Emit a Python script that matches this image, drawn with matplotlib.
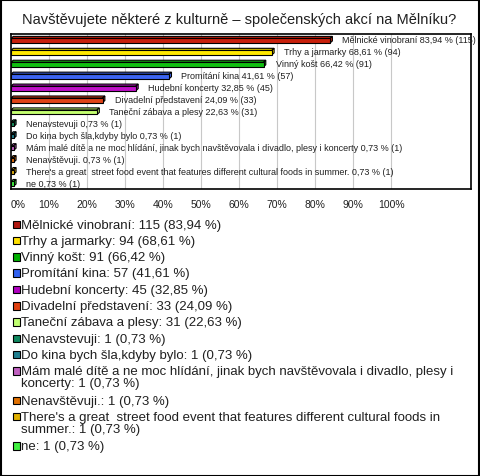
import matplotlib
matplotlib.use("Agg")
import matplotlib.pyplot as plt
from matplotlib.patches import Polygon, Rectangle

plt.rcParams['font.family'] = ['Liberation Sans', 'DejaVu Sans']

nazvy = [
    "Mělnické vinobraní",
    "Trhy a jarmarky",
    "Vinný košt",
    "Promítání kina",
    "Hudební koncerty",
    "Divadelní představení",
    "Taneční zábava a plesy",
    "Nenavstevuji",
    "Do kina bych šla,kdyby bylo",
    "Mám malé dítě a ne moc hlídání, jinak bych navštěvovala i divadlo, plesy i koncerty",
    "Nenavštěvuji.",
    "There's a great  street food event that features different cultural foods in summer.",
    "ne",
]
pocty = [115, 94, 91, 57, 45, 33, 31, 1, 1, 1, 1, 1, 1]
procenta = [83.94, 68.61, 66.42, 41.61, 32.85, 24.09, 22.63,
            0.73, 0.73, 0.73, 0.73, 0.73, 0.73]
barvy_sloupcu = ["#c8200c", "#ffe800", "#10c010", "#3c64f0", "#c010c8", "#e04418",
                 "#c4ff70", "#189060", "#20808c", "#c060c0", "#e07010", "#e0b010",
                 "#40f040"]
barvy_legendy = ["#b01810", "#ffe000", "#00b000", "#3060f0", "#b000c0", "#e04010",
                 "#c0ff70", "#108860", "#207f90", "#c060c0", "#e07000", "#e0b000",
                 "#40f040"]
# zalomeni v legende jako v originale
legenda = [
    "Mělnické vinobraní: 115 (83,94 %)",
    "Trhy a jarmarky: 94 (68,61 %)",
    "Vinný košt: 91 (66,42 %)",
    "Promítání kina: 57 (41,61 %)",
    "Hudební koncerty: 45 (32,85 %)",
    "Divadelní představení: 33 (24,09 %)",
    "Taneční zábava a plesy: 31 (22,63 %)",
    "Nenavstevuji: 1 (0,73 %)",
    "Do kina bych šla,kdyby bylo: 1 (0,73 %)",
    "Mám malé dítě a ne moc hlídání, jinak bych navštěvovala i divadlo, plesy i\nkoncerty: 1 (0,73 %)",
    "Nenavštěvuji.: 1 (0,73 %)",
    "There's a great  street food event that features different cultural foods in\nsummer.: 1 (0,73 %)",
    "ne: 1 (0,73 %)",
]
osa_x = [0, 10, 20, 30, 40, 50, 60, 70, 80, 90, 100]

W, H = 480, 477
fig = plt.figure(figsize=(4.8, 4.77), dpi=100)

# ramecek kolem celeho obrazku
fig.patches.append(Rectangle((0.5 / W, 0.5 / H), 1 - 1.5 / W, 1 - 1.5 / H,
                             transform=fig.transFigure, fill=False,
                             edgecolor="black", linewidth=1.5))

fig.text(239 / W, 1 - 20 / H,
         "Navštěvujete některé z kulturně – společenských akcí na Mělníku?",
         ha="center", va="center", fontsize=10.5, color="#202020")

ax = fig.add_axes([11 / W, 1 - 190 / H, 460 / W, 155 / H])
ax.set_xlim(0, 121)
ax.set_ylim(len(nazvy) - 0.5, -0.5)
ax.set_xticks(osa_x)
ax.set_xticklabels([f"{t}%" for t in osa_x], fontsize=7.5, color="#202020")
ax.get_xticklabels()[0].set_ha("left")
ax.set_yticks([])
ax.tick_params(axis="x", length=0, pad=7)
for t in osa_x[1:]:
    ax.axvline(t, color="#c8c8c8", linewidth=0.8, zorder=0)
for s in ax.spines.values():
    s.set_linewidth(1.2)

# 3D sloupce
dx, dy = 0.6, 0.17
for i, (v, c) in enumerate(zip(procenta, barvy_sloupcu)):
    y0, y1 = i - 0.13, i + 0.25
    top = Polygon([(0, y0), (dx, y0 - dy), (v + dx, y0 - dy), (v, y0)],
                  closed=True, facecolor=c, edgecolor="black", linewidth=0.8)
    side = Polygon([(v, y0), (v + dx, y0 - dy), (v + dx, y1 - dy), (v, y1)],
                   closed=True, facecolor=c, edgecolor="black", linewidth=0.8)
    front = Rectangle((0, y0), v, y1 - y0, facecolor=c, edgecolor="black",
                      linewidth=0.8)
    for p in (top, side, front):
        ax.add_patch(p)
    pct = f"{procenta[i]:.2f}".replace(".", ",")
    popis = f"{nazvy[i]} {pct} % ({pocty[i]})"
    ax.annotate(popis, (v + dx, i), xytext=(7, 0), textcoords="offset points",
                va="center", ha="left", fontsize=6.5, color="#202020")

# legenda
y_pos = 225
for txt, c in zip(legenda, barvy_legendy):
    fig.patches.append(Rectangle((12.5 / W, 1 - (y_pos + 4) / H), 7.5 / W, 7.5 / H,
                                 transform=fig.transFigure, facecolor=c,
                                 edgecolor="black", linewidth=0.8))
    fig.text(21 / W, 1 - (y_pos - 5.5) / H, txt, ha="left", va="top",
             fontsize=9.5, color="#202020", linespacing=1.0)
    y_pos += 16.3 + 13 * txt.count("\n")

fig.savefig("out.png", dpi=100)
